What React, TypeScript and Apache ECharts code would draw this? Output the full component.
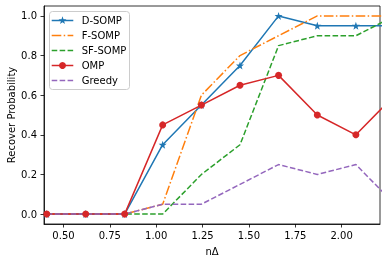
import React, { useEffect, useRef } from 'react';
import * as echarts from 'echarts';

const nDelta = [0.41, 0.62, 0.83, 1.035, 1.244, 1.452, 1.66, 1.869, 2.077, 2.286];
const seriesNames = ['D-SOMP', 'F-SOMP', 'SF-SOMP', 'OMP', 'Greedy'];
const dSomp = [0, 0, 0, 0.35, 0.55, 0.75, 1.0, 0.95, 0.95, 0.95];
const fSomp = [0, 0, 0, 0.05, 0.6, 0.8, 0.9, 1.0, 1.0, 1.0];
const sfSomp = [0, 0, 0, 0, 0.2, 0.35, 0.85, 0.9, 0.9, 1.0];
const omp = [0, 0, 0, 0.45, 0.55, 0.65, 0.7, 0.5, 0.4, 0.6];
const greedy = [0, 0, 0, 0.05, 0.05, 0.15, 0.25, 0.2, 0.25, 0.05];
const xTicks = [0.5, 0.75, 1.0, 1.25, 1.5, 1.75, 2.0];
const yTicks = [0, 0.2, 0.4, 0.6, 0.8, 1.0];

const FONT = 'DejaVu Sans';
const STAR_D = 'M0,-10 L2.35,-3.24 L9.51,-3.09 L3.8,1.24 L5.88,8.09 L0,4 L-5.88,8.09 L-3.8,1.24 L-9.51,-3.09 L-2.35,-3.24 Z';
const STAR = 'path://' + STAR_D;

const COLORS = ['#1f77b4', '#ff7f0e', '#2ca02c', '#d62728', '#9467bd'];
const DASHDOT = [9.6, 2.4, 1.5, 2.4];
const DASHED = [5.55, 2.4];
const LINE_TYPES: any[] = ['solid', DASHDOT, DASHED, 'solid', DASHED];
const MARKERS = ['star', 'none', 'none', 'circle', 'none'];

function pairs(ys: number[]) {
  return ys.map((y, i) => [nDelta[i], y]);
}

let registered = false;

export default function App() {
  const ref = useRef<HTMLDivElement>(null);
  useEffect(() => {
    if (!ref.current) return;
    if (!registered) {
      echarts.graphic.registerShape('starmark', echarts.graphic.extendPath(STAR_D, {}) as any);
      registered = true;
    }
    const chart = echarts.init(ref.current, null, { renderer: 'svg' });
    const lw = 1.5;
    const allData = [dSomp, fSomp, sfSomp, omp, greedy];
    const series = seriesNames.map((name, i) => {
      const m = MARKERS[i];
      const symbol = m === 'star' ? STAR : m === 'circle' ? 'circle' : 'none';
      return {
        name,
        type: 'line',
        data: pairs(allData[i]),
        clip: true,
        symbol,
        symbolSize: m === 'star' ? 8 : 7,
        showSymbol: symbol !== 'none',
        itemStyle: { color: COLORS[i], borderWidth: 0 },
        lineStyle: { color: COLORS[i], width: lw, type: LINE_TYPES[i] },
        emphasis: { disabled: true },
      };
    });

    // legend drawn manually (matplotlib style)
    const lgX = 49.5, lgY = 11.5, lgW = 80, lgH = 78;
    const legendChildren: any[] = [
      {
        type: 'rect',
        shape: { x: lgX, y: lgY, width: lgW, height: lgH, r: 3 },
        style: { fill: 'rgba(255,255,255,0.8)', stroke: '#cccccc', lineWidth: 1 },
      },
    ];
    seriesNames.forEach((name, i) => {
      const cy = 20.5 + 15 * i;
      const t = LINE_TYPES[i];
      legendChildren.push({
        type: 'line',
        shape: { x1: 51.7, y1: cy, x2: 73.3, y2: cy },
        style: { stroke: COLORS[i], lineWidth: lw, lineDash: Array.isArray(t) ? t : null },
      });
      if (MARKERS[i] === 'circle') {
        legendChildren.push({
          type: 'circle',
          shape: { cx: 62.5, cy, r: 3.5 },
          style: { fill: COLORS[i] },
        });
      } else if (MARKERS[i] === 'star') {
        legendChildren.push({
          type: 'starmark',
          x: 62.5,
          y: cy,
          scaleX: 0.42,
          scaleY: 0.42,
          style: { fill: COLORS[i] },
        });
      }
      legendChildren.push({
        type: 'text',
        x: 81.7,
        y: cy,
        style: {
          text: name,
          fontFamily: FONT,
          fontSize: 10,
          fill: '#000',
          verticalAlign: 'middle',
          align: 'left',
        },
      });
    });

    chart.setOption({
      animation: false,
      textStyle: { fontFamily: FONT },
      grid: {
        left: 44,
        top: 6,
        width: 336,
        height: 218,
        outerBoundsMode: 'none',
        containLabel: false,
        show: true,
        borderColor: '#000',
        borderWidth: 0.8,
        backgroundColor: 'transparent',
      },
      xAxis: {
        type: 'value',
        min: 0.395,
        max: 2.207,
        name: 'nΔ',
        nameLocation: 'middle',
        nameGap: 22,
        nameMoveOverlap: false,
        nameTextStyle: { fontFamily: FONT, fontSize: 10, color: '#000' },
        axisLine: { onZero: false, lineStyle: { color: '#000', width: 0.8 } },
        axisTick: { show: true, length: 3.5, lineStyle: { color: '#000', width: 0.8 }, customValues: xTicks },
        axisLabel: {
          customValues: xTicks,
          margin: 6,
          fontFamily: FONT,
          fontSize: 10,
          color: '#000',
          formatter: (v: number) => v.toFixed(2),
        },
        splitLine: { show: false },
      },
      yAxis: {
        type: 'value',
        min: -0.05,
        max: 1.05,
        name: 'Recover Probability',
        nameLocation: 'middle',
        nameGap: 28,
        nameMoveOverlap: false,
        nameTextStyle: { fontFamily: FONT, fontSize: 10, color: '#000' },
        axisLine: { onZero: false, lineStyle: { color: '#000', width: 0.8 } },
        axisTick: { show: true, length: 3.5, lineStyle: { color: '#000', width: 0.8 }, customValues: yTicks },
        axisLabel: {
          customValues: yTicks,
          margin: 7,
          fontFamily: FONT,
          fontSize: 10,
          color: '#000',
          formatter: (v: number) => v.toFixed(1),
        },
        splitLine: { show: false },
      },
      series,
      graphic: [{ type: 'group', children: legendChildren }],
    });
    return () => chart.dispose();
  }, []);
  return <div ref={ref} style={{ position: 'fixed', left: 0, top: 0, width: 386, height: 264 }} />;
}
